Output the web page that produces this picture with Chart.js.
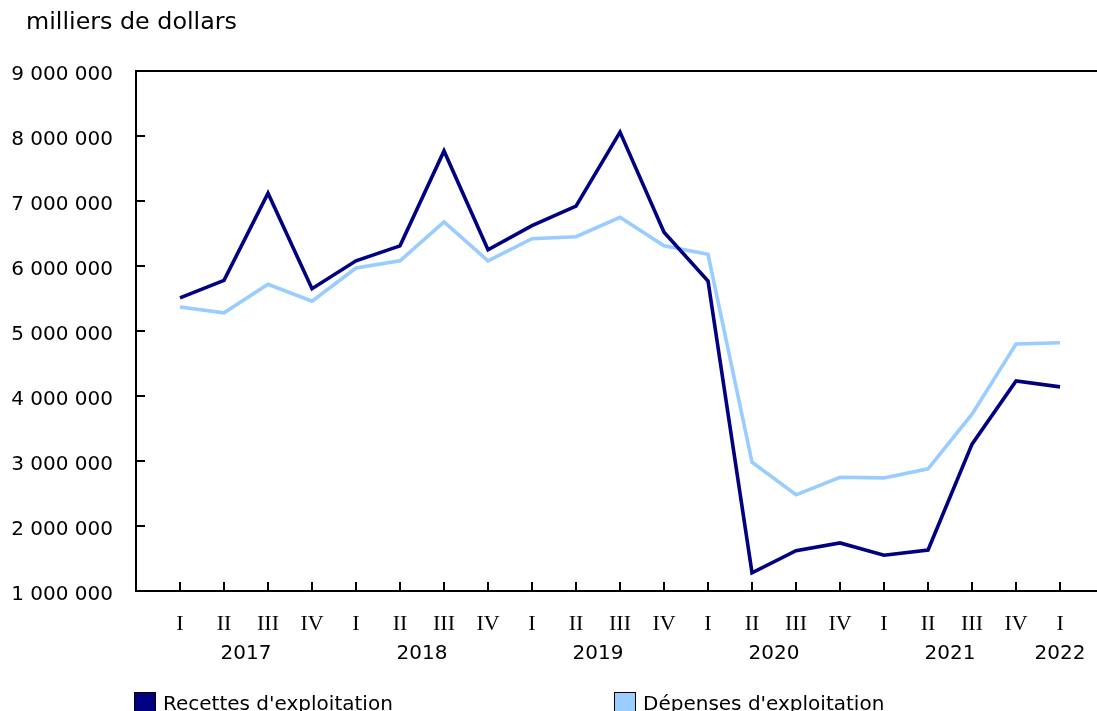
<!DOCTYPE html>
<html>
<head>
<meta charset="utf-8">
<script src="https://cdn.jsdelivr.net/npm/chart.js@4"></script>
<style>
    html, body { margin: 0; padding: 0; overflow: hidden; background: #fff; }
    #wrap { position: relative; width: 1097px; height: 711px; }
    .lg-box { position: absolute; top: 692px; width: 20px; height: 20px; border: 1px solid #000; }
    .lg-text { position: absolute; top: 691px; font: 20px 'DejaVu Sans', sans-serif; line-height: 24px; color: #000; white-space: nowrap; }
</style>
</head>
<body>
<div id="wrap">
    <canvas id="chart" width="1097" height="711"></canvas>
    <div class="lg-box" style="left:134px; background:#000080;"></div>
    <div class="lg-text" style="left:163px;">Recettes d'exploitation</div>
    <div class="lg-box" style="left:614px; background:#99ccff;"></div>
    <div class="lg-text" style="left:643px;">Dépenses d'exploitation</div>
</div>
<script>
// Quarters from 2017 Q1 to 2022 Q1
const quarters = ['I', 'II', 'III', 'IV', 'I', 'II', 'III', 'IV', 'I', 'II', 'III', 'IV',
    'I', 'II', 'III', 'IV', 'I', 'II', 'III', 'IV', 'I'];
const years = ['2017', '2018', '2019', '2020', '2021', '2022'];
const yearPositions = [1.5, 5.5, 9.5, 13.5, 17.5, 20];

// milliers de dollars
const recettes = [5510000, 5780000, 7120000, 5650000, 6080000, 6310000, 7770000, 6250000,
    6620000, 6920000, 8060000, 6520000, 5770000, 1280000, 1620000, 1740000, 1550000,
    1630000, 3260000, 4230000, 4140000];
const depenses = [5370000, 5280000, 5720000, 5460000, 5970000, 6080000, 6680000, 6080000,
    6420000, 6450000, 6750000, 6310000, 6180000, 2980000, 2480000, 2750000, 2740000,
    2880000, 3720000, 4800000, 4820000];

const yTicks = [1000000, 2000000, 3000000, 4000000, 5000000, 6000000, 7000000, 8000000, 9000000];

const fmt = v => String(v).replace(/\B(?=(\d{3})+(?!\d))/g, ' ');
const toPoints = arr => arr.map((v, i) => ({ x: i, y: v }));

// Title, top frame line and inward tick marks
const framePlugin = {
    id: 'frame',
    afterDraw(chart) {
        const ctx = chart.ctx;
        const area = chart.chartArea;
        const x = chart.scales.x;
        const y = chart.scales.y;
        ctx.save();
        ctx.strokeStyle = '#000';
        ctx.lineWidth = 2;
        ctx.beginPath();
        ctx.moveTo(area.left - 1, area.top);
        ctx.lineTo(area.right, area.top);
        yTicks.forEach(v => {
            const py = Math.round(y.getPixelForValue(v));
            ctx.moveTo(area.left, py);
            ctx.lineTo(area.left + 9, py);
        });
        quarters.forEach((q, i) => {
            const px = Math.round(x.getPixelForValue(i));
            ctx.moveTo(px, area.bottom);
            ctx.lineTo(px, area.bottom - 9);
        });
        ctx.stroke();

        ctx.fillStyle = '#000';
        ctx.font = "23.8px 'DejaVu Sans', sans-serif";
        ctx.textBaseline = 'middle';
        ctx.textAlign = 'left';
        ctx.fillText('milliers de dollars', 26, 23);
        ctx.restore();
    }
};

new Chart(document.getElementById('chart'), {
    type: 'line',
    data: {
        datasets: [{
            label: "Recettes d'exploitation",
            data: toPoints(recettes),
            borderColor: '#000080',
            backgroundColor: '#000080',
            borderWidth: 3.6,
            pointRadius: 0,
            tension: 0
        }, {
            label: "Dépenses d'exploitation",
            data: toPoints(depenses),
            borderColor: '#99ccff',
            backgroundColor: '#99ccff',
            borderWidth: 3.6,
            pointRadius: 0,
            tension: 0
        }]
    },
    options: {
        responsive: false,
        animation: false,
        events: [],
        layout: { padding: { top: 71, left: 0, right: 0, bottom: 31 } },
        scales: {
            x: {
                type: 'linear',
                position: 'bottom',
                min: -1,
                max: 20.84,
                afterBuildTicks: s => { s.ticks = quarters.map((q, i) => ({ value: i })); },
                afterFit: s => { s.height = 46; },
                ticks: {
                    autoSkip: false,
                    maxRotation: 0,
                    padding: 20,
                    color: '#000',
                    font: { family: "'Liberation Serif', serif", size: 22 },
                    callback: v => quarters[v]
                },
                grid: { display: false, drawTicks: false },
                border: { display: true, color: '#000', width: 2 }
            },
            xYear: {
                type: 'linear',
                position: 'bottom',
                min: -1,
                max: 20.84,
                afterBuildTicks: s => { s.ticks = yearPositions.map(v => ({ value: v })); },
                afterFit: s => { s.height = 43; },
                ticks: {
                    autoSkip: false,
                    maxRotation: 0,
                    padding: 5,
                    color: '#000',
                    font: { family: "'DejaVu Sans', sans-serif", size: 20 },
                    callback: v => years[yearPositions.indexOf(v)]
                },
                grid: { display: false, drawTicks: false },
                border: { display: false }
            },
            y: {
                min: 1000000,
                max: 9000000,
                afterBuildTicks: s => { s.ticks = yTicks.map(v => ({ value: v })); },
                afterFit: s => { s.width = 136; },
                ticks: {
                    padding: 23,
                    labelOffset: 4,
                    color: '#000',
                    font: { family: "'DejaVu Sans', sans-serif", size: 20 },
                    callback: v => fmt(v)
                },
                grid: { display: false, drawTicks: false },
                border: { display: true, color: '#000', width: 2 }
            }
        },
        plugins: {
            legend: { display: false },
            tooltip: { enabled: false }
        }
    },
    plugins: [framePlugin]
});
</script>
</body>
</html>
